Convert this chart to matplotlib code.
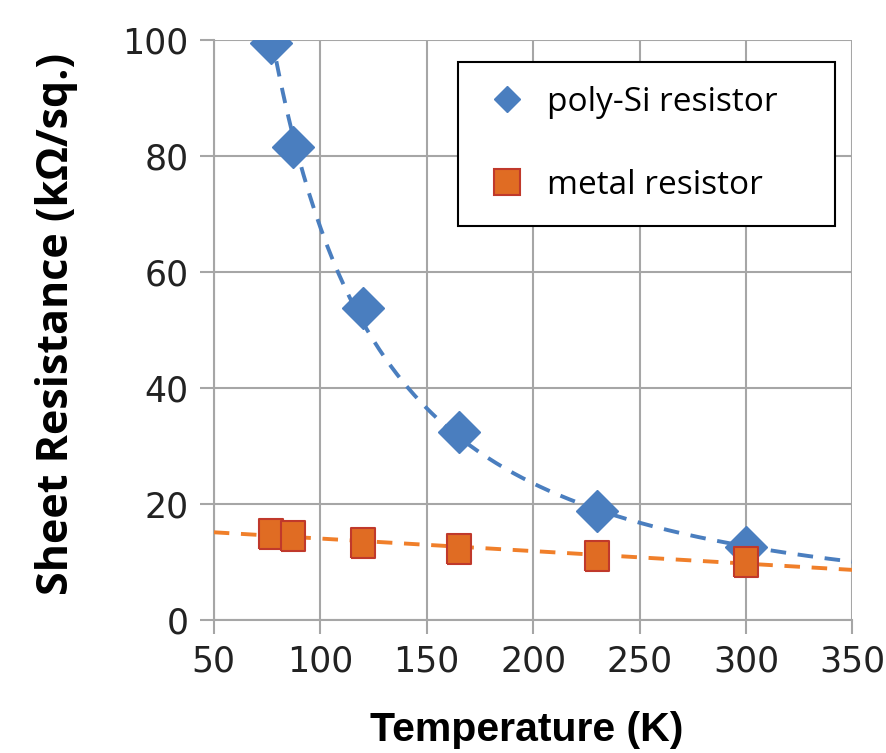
import numpy as np
import matplotlib
matplotlib.use("Agg")
import matplotlib.pyplot as plt
from matplotlib.lines import Line2D

# values
temp = [77, 87, 120, 165, 230, 300]
poly_si = [99.5, 81.5, 53.8, 32.3, 18.7, 12.5]
metal = [14.8, 14.5, 13.3, 12.2, 11.0, 10.0]

xticks = [50, 100, 150, 200, 250, 300, 350]
yticks = [0, 20, 40, 60, 80, 100]

blue = '#4a7ebf'
orange = '#e06c23'
orange_line = '#f07f2a'
edge_red = '#c0392b'
grid_c = '#a6a6a6'

# slightly tall rectangle, like the squares in the original
tall_sq = [(-0.4, -0.5), (0.4, -0.5), (0.4, 0.5), (-0.4, 0.5), (-0.4, -0.5)]

fig = plt.figure(figsize=(8.87, 7.53), dpi=100)
ax = fig.add_axes([0.241, 0.177, 0.72, 0.77])

# trend lines, fitted from the points (power law for poly-Si, linear for metal)
b, ln_a = np.polyfit(np.log(temp), np.log(poly_si), 1)
xp = np.linspace(temp[0], 350, 200)
ax.plot(xp, np.exp(ln_a) * xp ** b, color=blue, lw=2.8, ls=(0, (4, 3)), zorder=3)

m, c = np.polyfit(temp, metal, 1)
xm = np.array([50, 350])
ax.plot(xm, m * xm + c, color=orange_line, lw=2.8, ls=(0, (4, 3)), zorder=3)

ax.plot(temp, poly_si, ls='none', marker='D', ms=21.5, color=blue,
        mec=blue, zorder=4)
ax.plot(temp, metal, ls='none', marker=tall_sq, ms=21.5, color=orange,
        mec=edge_red, mew=1.5, zorder=5)

ax.set_xlim(50, 350)
ax.set_ylim(0, 100)
ax.set_xticks(xticks)
ax.set_yticks(yticks)
ax.grid(True, color=grid_c, lw=1.5)
ax.set_axisbelow(True)
for s in ['top', 'right']:
    ax.spines[s].set_visible(False)
for s in ['left', 'bottom']:
    ax.spines[s].set_color(grid_c)
    ax.spines[s].set_linewidth(1.5)
ax.tick_params(colors=grid_c, length=10, width=1.5, labelcolor='#222222',
               labelsize=25, pad=8)
for t in ax.get_xticklabels() + ax.get_yticklabels():
    t.set_family('DejaVu Sans')

ax.set_xlabel('Temperature (K)', fontsize=29.5, fontweight='bold',
              family='Liberation Sans')
ax.xaxis.set_label_coords(0.49, -0.158)
ax.set_ylabel('Sheet Resistance (kΩ/sq.)', fontsize=31, fontweight='bold',
              family='Open Sans')
ax.yaxis.set_label_coords(-0.213, 0.51)

handles = [
    Line2D([], [], ls='none', marker='D', ms=13, color=blue, mec=blue),
    Line2D([], [], ls='none', marker='s', ms=19, color=orange,
           mec=edge_red, mew=1.5),
]
labels = ['poly-Si resistor', 'metal resistor']
leg = ax.legend(handles, labels, loc='upper left',
                bbox_to_anchor=(0.382, 0.962, 0.591, 0.0), mode='expand',
                prop={'family': 'Open Sans', 'size': 24}, frameon=True,
                fancybox=False, edgecolor='black', framealpha=1,
                borderpad=0.72, labelspacing=1.5, handletextpad=0.45,
                handlelength=1.5, borderaxespad=0)
leg.get_frame().set_linewidth(1.5)

fig.savefig('out.png', dpi=100)
